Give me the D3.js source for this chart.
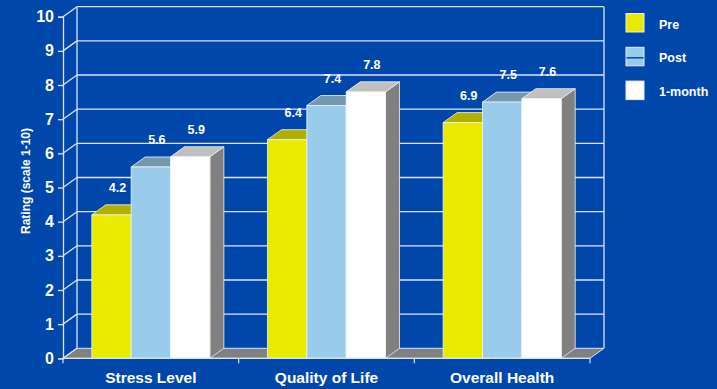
<!DOCTYPE html>
<html>
<head>
<meta charset="utf-8">
<script src="https://cdn.jsdelivr.net/npm/d3@7/dist/d3.min.js"></script>
<style>
  html, body { margin: 0; padding: 0; background: #0047AB; }
  svg { display: block; }
  text { font-family: "Liberation Sans", Arial, sans-serif; font-weight: bold; fill: #fff; }
</style>
</head>
<body>
<svg id="chart" width="717" height="389"></svg>
<script>
// Ratings per category, one array per survey point
const categories = ["Stress Level", "Quality of Life", "Overall Health"];
const seriesNames = ["Pre", "Post", "1-month"];
const preValues = [4.2, 6.4, 6.9];
const postValues = [5.6, 7.4, 7.5];
const monthValues = [5.9, 7.8, 7.6];
const yTicks = [0, 1, 2, 3, 4, 5, 6, 7, 8, 9, 10];
const yTitle = "Rating (scale 1-10)";

const seriesValues = [preValues, postValues, monthValues];

// front face colour, top face colour, side face colour
const palette = {
  "Pre":     { front: "#EAEA00", top: "#B0B000", side: "#8A8A00" },
  "Post":    { front: "#99CCEB", top: "#7399B0", side: "#5C7A8C" },
  "1-month": { front: "#FFFFFF", top: "#C0C0C0", side: "#808080" }
};

const svg = d3.select("#chart");
const left = 63, right = 590;
const depthX = 14, depthY = -10;
const gridColor = "#DDE3F0";

const y = d3.scaleLinear().domain([0, 10]).range([358.3, 16.7]);
const x = d3.scaleBand().domain(categories).range([left, right])
  .paddingInner(0.328).paddingOuter(0.164);
const xs = d3.scaleBand().domain(seriesNames).range([0, x.bandwidth()]);

const y0 = y(0);

// floor
svg.append("polygon")
  .attr("points", [[left, y0], [right, y0], [right + depthX, y0 + depthY], [left + depthX, y0 + depthY]].join(" "))
  .attr("fill", "#808080")
  .attr("stroke", gridColor).attr("stroke-width", 1);

// back wall gridlines and left wall diagonals
const grid = svg.append("g").attr("stroke", gridColor).attr("stroke-width", 1.3).attr("fill", "none");
yTicks.forEach(t => {
  if (t > 0) {
    grid.append("line")
      .attr("x1", left + depthX).attr("x2", right + depthX)
      .attr("y1", y(t) + depthY).attr("y2", y(t) + depthY);
  }
  grid.append("line")
    .attr("x1", left).attr("y1", y(t))
    .attr("x2", left + depthX).attr("y2", y(t) + depthY);
});
// back wall edges
grid.append("line").attr("x1", left + depthX).attr("x2", left + depthX)
  .attr("y1", y(10) + depthY).attr("y2", y0 + depthY);
grid.append("line").attr("x1", right + depthX).attr("x2", right + depthX)
  .attr("y1", y(10) + depthY).attr("y2", y0 + depthY);

// bars, drawn left to right so each bar hides the side of its neighbour
categories.forEach((cat, ci) => {
  seriesNames.forEach((s, si) => {
    const v = seriesValues[si][ci];
    const x0 = x(cat) + xs(s), w = xs.bandwidth();
    const x1 = x0 + w, yt = y(v);
    const c = palette[s];
    const g = svg.append("g").attr("stroke", "#F4F4F4").attr("stroke-width", 0.8).attr("stroke-linejoin", "round");
    g.append("polygon")
      .attr("points", [[x1, yt], [x1 + depthX, yt + depthY], [x1 + depthX, y0 + depthY], [x1, y0]].join(" "))
      .attr("fill", c.side);
    g.append("polygon")
      .attr("points", [[x0, yt], [x1, yt], [x1 + depthX, yt + depthY], [x0 + depthX, yt + depthY]].join(" "))
      .attr("fill", c.top);
    g.append("rect")
      .attr("x", x0).attr("y", yt).attr("width", w).attr("height", y0 - yt)
      .attr("fill", c.front);
  });
});

// value labels
categories.forEach((cat, ci) => {
  seriesNames.forEach((s, si) => {
    const v = seriesValues[si][ci];
    svg.append("text")
      .attr("x", x(cat) + xs(s) + xs.bandwidth() / 2 + 6)
      .attr("y", y(v) + depthY - 13)
      .attr("text-anchor", "middle")
      .attr("font-size", 12.5)
      .text(v.toFixed(1));
  });
});

// y axis
const yAxis = svg.append("g").attr("transform", `translate(${left},0)`)
  .call(d3.axisLeft(y).tickValues(yTicks).tickSize(5).tickPadding(4).tickFormat(d3.format("d")));
yAxis.select(".domain").attr("stroke", gridColor).attr("stroke-width", 1.3);
yAxis.selectAll(".tick line").attr("stroke", gridColor).attr("stroke-width", 1.3);
yAxis.selectAll(".tick text").attr("font-size", 16).attr("fill", "#fff")
  .attr("font-family", "Liberation Sans, Arial, sans-serif").attr("font-weight", "bold");

// x axis with ticks between categories
const xAxis = svg.append("g").attr("transform", `translate(0,${y0})`);
xAxis.append("line").attr("x1", left).attr("x2", right).attr("y1", 0).attr("y2", 0)
  .attr("stroke", gridColor).attr("stroke-width", 1.3);
const step = x.step();
d3.range(categories.length + 1).forEach(i => {
  xAxis.append("line")
    .attr("x1", left + i * step).attr("x2", left + i * step)
    .attr("y1", 0).attr("y2", 5)
    .attr("stroke", gridColor).attr("stroke-width", 1.2);
});
categories.forEach(cat => {
  xAxis.append("text")
    .attr("x", x(cat) + x.bandwidth() / 2)
    .attr("y", 25)
    .attr("text-anchor", "middle")
    .attr("font-size", 15.5)
    .text(cat);
});

// y axis title
svg.append("text")
  .attr("transform", "translate(30,181) rotate(-90)")
  .attr("text-anchor", "middle")
  .attr("font-size", 12)
  .text(yTitle);

// legend
const legend = svg.append("g").attr("transform", "translate(626,13.5)");
seriesNames.forEach((s, i) => {
  const row = legend.append("g").attr("transform", `translate(0,${i * 33.8})`);
  row.append("rect").attr("width", 18).attr("height", 18.5)
    .attr("fill", palette[s].front).attr("stroke", "#E8EEF8").attr("stroke-width", 1);
  if (s === "Post") {
    row.append("line").attr("x1", 0.5).attr("x2", 17.5).attr("y1", 10.5).attr("y2", 10.5)
      .attr("stroke", "#0047AB").attr("stroke-width", 1.5);
  }
  row.append("text").attr("x", 33).attr("y", 15.2).attr("font-size", 12.5).text(s);
});
</script>
</body>
</html>
